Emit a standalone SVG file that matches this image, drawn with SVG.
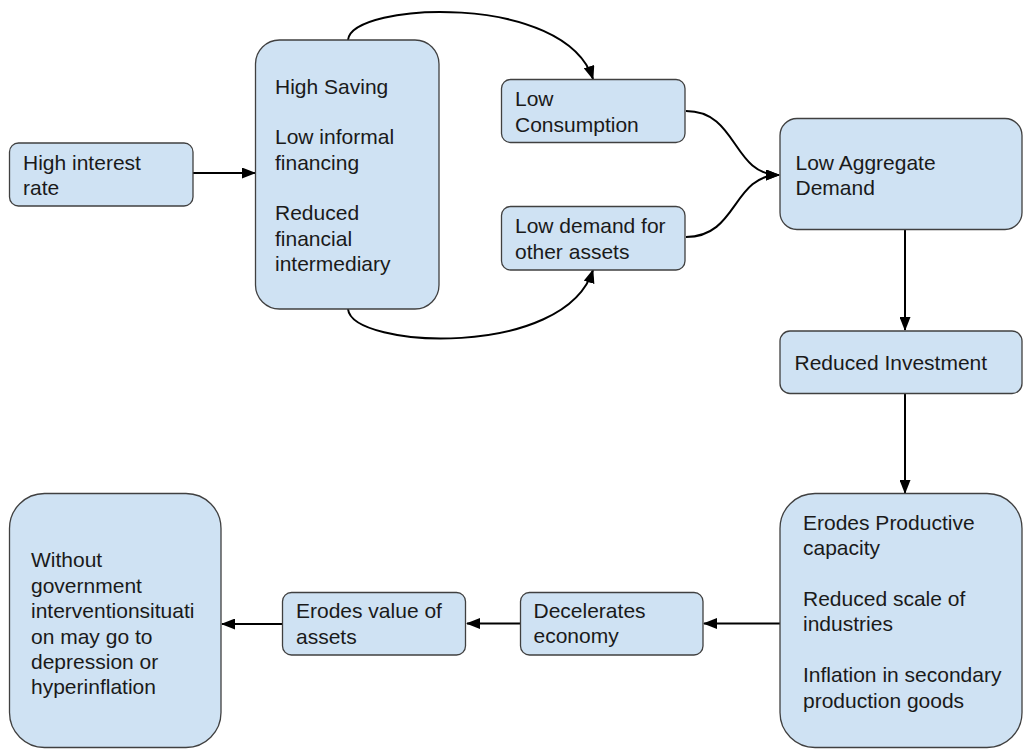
<svg xmlns="http://www.w3.org/2000/svg" width="1025" height="751" viewBox="0 0 1025 751">
<defs>
<marker id="ah" markerUnits="userSpaceOnUse" markerWidth="14" markerHeight="11" refX="13" refY="5.5" orient="auto">
<path d="M0,0 L14,5.5 L0,11 z" fill="#000"/>
</marker>
<style>
.box{fill:#cfe2f3;stroke:#404040;stroke-width:1.3}
.t{font-family:"Liberation Sans",Arial,sans-serif;font-size:21px;fill:#1a1a1a}
.c{fill:none;stroke:#000;stroke-width:2;marker-end:url(#ah)}
</style>
</defs>
<rect width="1025" height="751" fill="#fff"/>
<g id="connectors">
<path class="c" d="M193 173 L255 173"/>
<path class="c" d="M348 40 C352 2, 565 -8, 593 79"/>
<path class="c" d="M348 309 C352 349, 565 359, 593 270"/>
<path class="c" d="M686 111 C738 111, 732 175, 779 175"/>
<path class="c" d="M686 237 C738 237, 732 175, 779 175"/>
<path class="c" d="M905 230 L905 330"/>
<path class="c" d="M905 394 L905 493"/>
<path class="c" d="M780 623.5 L704 623.5"/>
<path class="c" d="M520 623.5 L467 623.5"/>
<path class="c" d="M282 624 L222 624"/>
</g>
<g id="n1">
<rect class="box" x="9.5" y="143" width="183.5" height="63" rx="9"/>
<text class="t" x="23" y="170">High interest</text>
<text class="t" x="23" y="194.5">rate</text>
</g>
<g id="n2">
<rect class="box" x="255.5" y="40" width="183.5" height="269" rx="24"/>
<text class="t" x="275" y="94">High Saving</text>
<text class="t" x="275" y="144">Low informal</text>
<text class="t" x="275" y="170">financing</text>
<text class="t" x="275" y="220">Reduced</text>
<text class="t" x="275" y="246">financial</text>
<text class="t" x="275" y="271">intermediary</text>
</g>
<g id="n3">
<rect class="box" x="501.5" y="79.5" width="183.5" height="63" rx="9"/>
<text class="t" x="515" y="106">Low</text>
<text class="t" x="515" y="131.5">Consumption</text>
</g>
<g id="n4">
<rect class="box" x="501.5" y="206.5" width="183.5" height="63.5" rx="9"/>
<text class="t" x="515" y="233">Low demand for</text>
<text class="t" x="515" y="258.5">other assets</text>
</g>
<g id="n5">
<rect class="box" x="780" y="118.5" width="242" height="111" rx="17"/>
<text class="t" x="795.5" y="169.5">Low Aggregate</text>
<text class="t" x="795.5" y="194.5">Demand</text>
</g>
<g id="n6">
<rect class="box" x="780" y="331" width="242" height="62.5" rx="10"/>
<text class="t" x="794.5" y="369.5">Reduced Investment</text>
</g>
<g id="n7">
<rect class="box" x="780" y="493.5" width="242" height="254" rx="35"/>
<text class="t" x="803" y="530">Erodes Productive</text>
<text class="t" x="803" y="554.5">capacity</text>
<text class="t" x="803" y="605.5">Reduced scale of</text>
<text class="t" x="803" y="630.5">industries</text>
<text class="t" x="803" y="682">Inflation in secondary</text>
<text class="t" x="803" y="707.5">production goods</text>
</g>
<g id="n8">
<rect class="box" x="520.5" y="592.5" width="182.5" height="62.5" rx="9"/>
<text class="t" x="533.5" y="618">Decelerates</text>
<text class="t" x="533.5" y="643">economy</text>
</g>
<g id="n9">
<rect class="box" x="282.5" y="592.5" width="183" height="62.5" rx="9"/>
<text class="t" x="296" y="618">Erodes value of</text>
<text class="t" x="296" y="643.5">assets</text>
</g>
<g id="n10">
<rect class="box" x="9.5" y="493.5" width="211.5" height="254" rx="35"/>
<text class="t" x="31" y="567">Without</text>
<text class="t" x="31" y="592.5">government</text>
<text class="t" x="31" y="618">interventionsituati</text>
<text class="t" x="31" y="643.5">on may go to</text>
<text class="t" x="31" y="669">depression or</text>
<text class="t" x="31" y="694">hyperinflation</text>
</g>
</svg>
